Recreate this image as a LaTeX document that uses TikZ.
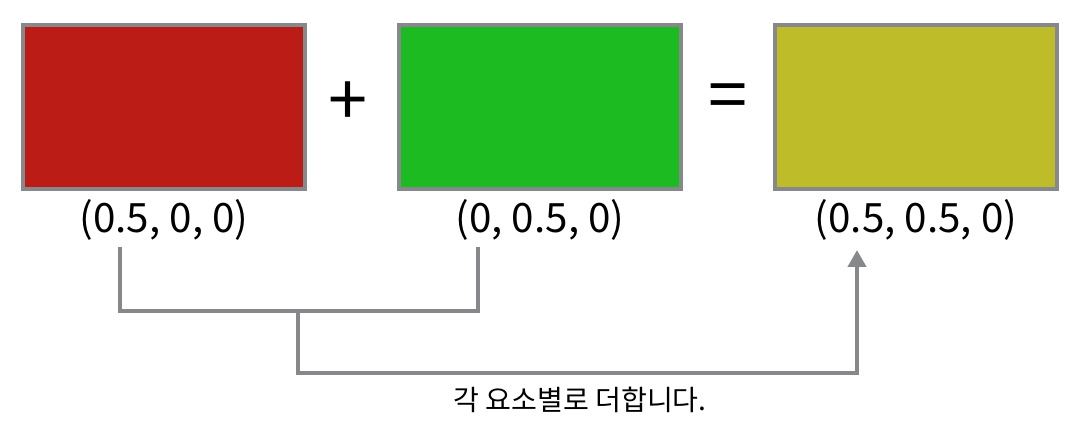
\documentclass[tikz,border=0pt]{standalone}
\usepackage{fontspec}
\setmainfont{Noto Sans CJK KR}
\usepackage{tikz}
\usetikzlibrary{positioning, calc, arrows.meta}
\definecolor{vred}{HTML}{BB1C15}
\definecolor{vgreen}{HTML}{1CBB21}
\definecolor{vyellow}{HTML}{BEBC28}
\definecolor{edge}{HTML}{86888C}

\begin{document}
\begin{tikzpicture}[
    vec/.style={draw=edge, line width=0.04cm, minimum width=2.82cm, minimum height=1.64cm, inner sep=0pt},
    lbl/.style={font=\fontsize{11.5}{13}\selectfont},
    op/.style={font=\fontsize{20}{22}\selectfont},
    conn/.style={draw=edge, line width=0.04cm}
  ]
      \useasboundingbox (0,0) rectangle (10.82,4.36);

      \node[vec, fill=vred] (V1) at (1.64,3.29) {};
      \node[vec, fill=vgreen] (V2) at (5.40,3.29) {};
      \node[vec, fill=vyellow] (V3) at (9.16,3.29) {};

      \node[op] (P) at (3.48,3.32) {+};
      \node[op] (E) at (7.28,3.34) {=};

      \node[lbl] (L1) at (1.64,2.16) {(0.5, 0, 0)};
      \node[lbl] (L2) at (5.40,2.16) {(0, 0.5, 0)};
      \node[lbl] (L3) at (9.16,2.16) {(0.5, 0.5, 0)};

      \coordinate (B1) at (1.20,1.89);
      \coordinate (B2) at (4.78,1.89);
      \coordinate (M) at (2.98,1.25);
      \coordinate (J) at (5.80,0.63);
      \coordinate (A3) at (8.57,1.86);

      \node[font=\fontsize{8}{10}\selectfont] (T) at (5.80,0.36) {각 요소별로 더합니다.};

      \draw[conn] (B1) |- (M) -| (B2);
      \draw[conn, -{Triangle[width=0.18cm, length=0.17cm]}] (M) -- (M |- J) -- (A3 |- J) -- (A3);
    \end{tikzpicture}
\end{document}
